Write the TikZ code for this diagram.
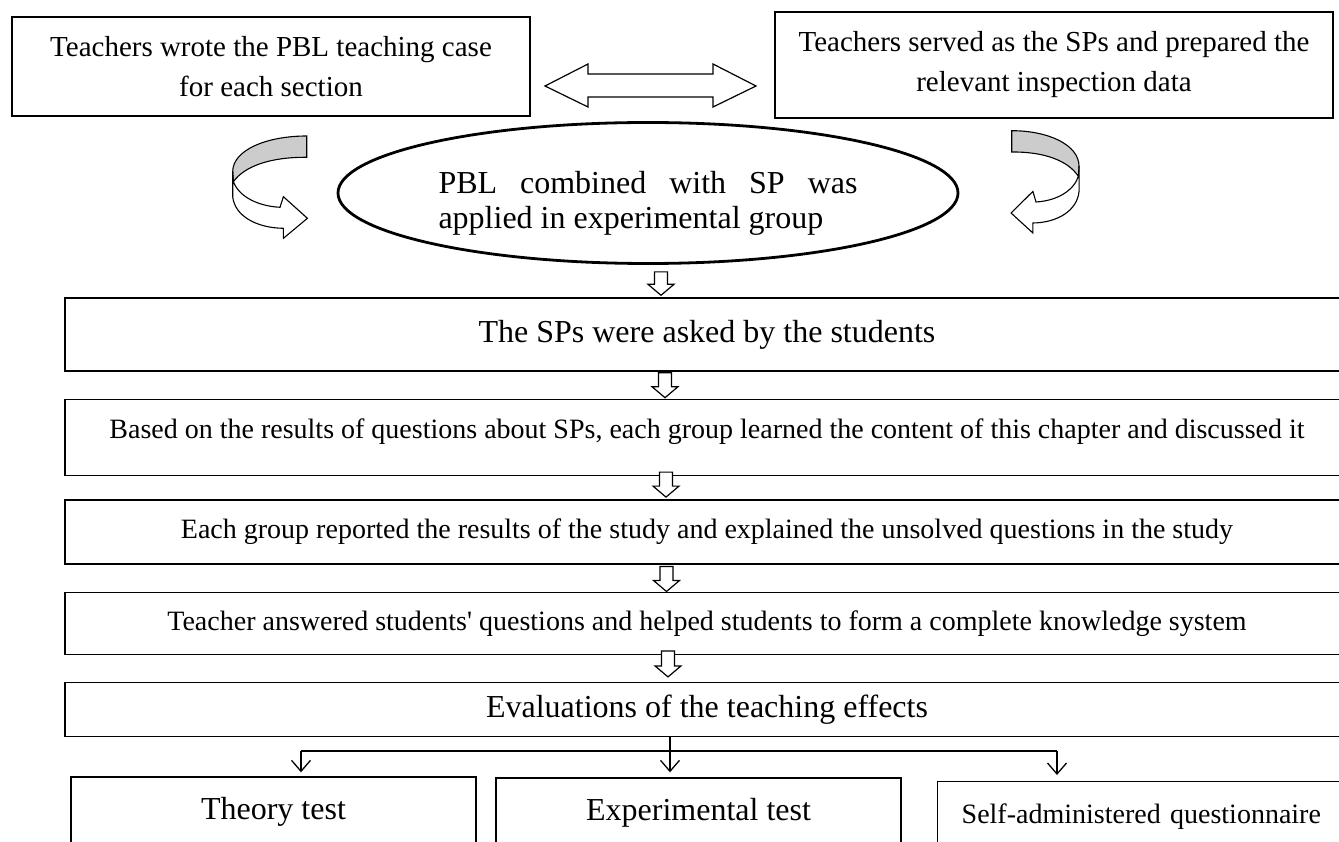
\documentclass[tikz,border=0pt]{standalone}
\usepackage{fontspec}
\setmainfont{Liberation Serif}
\usepackage{tikz}
\usetikzlibrary{arrows.meta,positioning,shapes.geometric,calc}
% hollow down arrow between two boxes: from, to, x, top gap, tip gap
\newcommand{\blockarr}[5]{%
  \draw[barr] let \p1=(#1.south), \p2=(#2.north) in
    ({#3pt-6.5pt},{\y1-(#4pt)}) -- ({#3pt+6.5pt},{\y1-(#4pt)}) -- ({#3pt+6.5pt},{\y2+#5pt+11pt})
    -- ({#3pt+13pt},{\y2+#5pt+11pt}) -- ({#3pt},{\y2+#5pt}) -- ({#3pt-13pt},{\y2+#5pt+11pt})
    -- ({#3pt-6.5pt},{\y2+#5pt+11pt}) -- cycle;}
% curved ribbon arrow: x, y of its upper end, xscale
\newcommand{\sweeparrow}[3]{%
  \begin{scope}[shift={(#1,#2)},xscale=#3,swept]
    \draw[fill=black!20] (0,0) .. controls (-40,0) and (-74,14) .. (-74,35.7)
      -- (-73.3,45.7) .. controls (-62,30) and (-36,21) .. (0,21.3) -- cycle;
    \draw[fill=white] (-74,35.7) -- (-74,60.7) .. controls (-72,80) and (-50,92) .. (-23.3,92.3)
      -- (-23.3,102.3) -- (0.7,82.3) -- (-23.3,60.7) -- (-26.7,71.3)
      .. controls (-50,70) and (-68,60) .. (-73.3,45.7) -- cycle;
  \end{scope}}
\tikzset{
  tbox/.style={draw,line width=1.3pt,align=center,font=\fontsize{29}{40}\selectfont},
  sbox/.style={draw,line width=1.4pt,minimum width=1284pt,align=center},
  bigtxt/.style={font=\fontsize{32}{36}\selectfont},
  midtxt/.style={font=\fontsize{28}{32}\selectfont},
  obox/.style={draw,line width=1.4pt,minimum height=70pt},
  barr/.style={draw,line width=1.2pt,fill=white},
  ebranch/.style={line width=1.3pt},
  etip/.style={ebranch,-{Straight Barb[length=11pt,width=19pt]}},
  swept/.style={line width=1.1pt},
}
\begin{document}
\begin{tikzpicture}[x=1pt,y=-1pt]
\useasboundingbox (0,0) rectangle (1339,842);
\clip (0,0) rectangle (1339,842);
\node[tbox,minimum width=518pt,minimum height=99pt] (tl) at (271,66.5)
  {Teachers wrote the PBL teaching case\\for each section};
\node[tbox,minimum width=558pt,minimum height=106pt] (tr) at (1054,65)
  {Teachers served as the SPs and prepared the\\relevant inspection data};
\node[ellipse,draw,line width=2.8pt,minimum width=620pt,minimum height=141pt,inner sep=0pt,
  text width=419pt,text depth=21pt,align=justify,font=\fontsize{32}{35}\selectfont] (pbl) at (648,193)
  {PBL combined with SP was\linebreak applied in experimental group};
% double block arrow between the two top boxes
\draw[barr] (545,86) -- (588,64) -- (588,74) -- (713,74) -- (713,64) -- (756,86)
  -- (713,107) -- (713,97) -- (588,97) -- (588,107) -- cycle;
\sweeparrow{306.7}{136}{1}
\sweeparrow{1011.7}{130.7}{-0.91}
\node[sbox,bigtxt,minimum height=73pt] (s1) at (707,334.5) {The SPs were asked by the students};
\node[sbox,midtxt,minimum height=76pt,text depth=18pt,below=27pt of s1] (s2)
  {Based on the results of questions about SPs, each group learned the content of this chapter and discussed it};
\node[sbox,midtxt,minimum height=64pt,below=23pt of s2] (s3)
  {Each group reported the results of the study and explained the unsolved questions in the study};
\node[sbox,midtxt,minimum height=62pt,below=27pt of s3] (s4)
  {Teacher answered students\textquotesingle\ questions and helped students to form a complete knowledge system};
\node[sbox,bigtxt,minimum height=54pt,below=27pt of s4] (s5) {Evaluations of the teaching effects};
\node[obox,bigtxt,minimum width=405pt] (theory) at (273.5,812) {Theory test};
\node[obox,bigtxt,minimum width=405pt] (exper) at (698.5,813) {Experimental test};
\node[obox,midtxt,anchor=north west,text width=372pt,inner xsep=24pt,align=left] (self) at (937,781)
  {Self-administered questionnaire};
\blockarr{pbl}{s1}{661}{7}{2}
\blockarr{s1}{s2}{665}{1}{1}
\blockarr{s2}{s3}{666}{-4}{2}
\blockarr{s3}{s4}{666.5}{2}{0}
\blockarr{s4}{s5}{668}{-4}{5}
\coordinate (fork) at (670,751);
\coordinate (fl) at (301,751);
\coordinate (fr) at (1057,751);
\draw[ebranch] (fork |- s5.south) -- (fork);
\draw[ebranch] (fl) -- (fr);
\draw[etip] (fork) -- ([yshift=5pt]fork |- exper.north);
\draw[etip] (fl) -- ([yshift=4pt]fl |- theory.north);
\draw[etip] (fr) -- ([yshift=6pt]fr |- self.north);
\end{tikzpicture}
\end{document}
